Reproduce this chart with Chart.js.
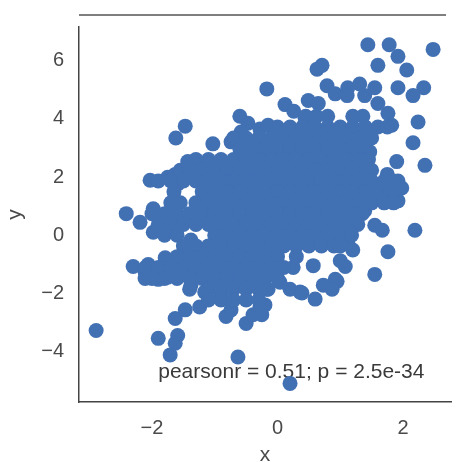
<!DOCTYPE html>
<html>
<head>
<meta charset="utf-8">
<script src="https://cdn.jsdelivr.net/npm/chart.js@4.4.1/dist/chart.umd.min.js"></script>
<style>
  html, body { margin: 0; padding: 0; background: #fff; }
  #wrap { width: 462px; height: 462px; }
</style>
</head>
<body>
<div id="wrap"><canvas id="chart" width="462" height="462"></canvas></div>
<script>
// tick values on each axis
const xTicks = [-2, 0, 2];
const yTicks = [-4, -2, 0, 2, 4, 6];

// scattered points around the edge of the cloud (x, y)
const loosePoints = [
    [-0.17, 5.03], [-1.47, 3.75], [-1.62, 3.34], [-0.60, 4.09], [-0.47, 3.85],
    [-0.28, 3.65], [-0.58, 3.55], [-0.74, 3.21], [-1.03, 3.14], [-0.39, 3.04],
    [-1.43, 2.53], [-2.03, 1.89], [-1.75, 1.99], [-1.63, 2.09], [-2.41, 0.74],
    [-2.19, 0.44], [-1.98, 0.91], [-1.98, 0.10], [-1.70, 0.17], [-1.70, 1.11],
    [-1.38, -0.17], [-1.59, 1.76], [-2.30, -1.08], [-2.06, -1.01], [-1.79, -0.78],
    [-2.11, -1.28], [-1.75, -1.45], [-1.47, -1.18], [-1.38, -1.72], [-1.16, -1.96],
    [-0.90, -2.06], [-1.63, -2.87], [-1.47, -2.57], [-1.24, -2.47], [-0.82, -2.80],
    [-0.74, -2.57], [-0.50, -3.04], [-0.39, -2.74], [-0.28, -2.47], [-2.89, -3.28],
    [-1.90, -3.55], [-1.59, -3.45], [-1.63, -3.72], [-1.71, -4.12], [-0.63, -4.19],
    [0.20, -5.10], [-2.11, -1.49], [-1.90, -1.52],
    [1.44, 6.55], [1.78, 6.55], [1.92, 6.15], [2.48, 6.39], [1.60, 5.84],
    [2.06, 5.68], [0.63, 5.71], [0.71, 5.84], [1.92, 5.07], [2.33, 5.07],
    [2.16, 4.80], [2.24, 3.89], [2.16, 3.18], [0.79, 5.14], [0.92, 4.86],
    [1.12, 5.07], [1.31, 5.20], [1.55, 5.07], [0.12, 4.49], [0.26, 4.26],
    [0.49, 4.63], [0.65, 4.53], [1.11, 4.80], [1.39, 4.80], [1.60, 4.53],
    [1.76, 4.19], [1.82, 3.78], [0.44, 4.02], [0.23, 3.55], [-0.15, 3.78],
    [0.01, 3.21], [1.47, 2.87], [1.90, 2.53], [2.35, 2.40], [1.92, 1.86],
    [1.98, 1.62], [1.92, 1.18], [1.75, 2.09], [1.39, 0.84], [1.55, 0.34],
    [1.67, 0.17], [2.19, 0.17], [1.76, -0.57], [1.55, -1.35], [1.20, -0.51],
    [1.12, -0.27], [1.08, -1.08], [1.00, -0.88], [0.92, -1.52], [0.73, -1.72],
    [0.60, -2.20], [0.36, -1.96], [0.20, -1.86], [0.25, -1.11], [0.57, -1.05],
    [0.04, -1.62], [-0.17, -1.86], [-0.20, -2.40], [-0.25, -2.74], [0.95, -1.59],
    [0.87, -1.86], [0.39, -1.99]
];

// dense middle of the cloud, read row by row: y of the row, then the x values
const coreRowY = [4.09, 3.72, 3.34, 2.97, 2.60, 2.23, 1.86, 1.49, 1.11, 0.74,
                  0.37, 0.00, -0.37, -0.74, -1.11, -1.49, -1.86, -2.23];
const coreRowX = [
    [0.45, 0.62, 0.80, 1.20, 1.36],
    [0.0, 0.2, 0.4, 0.6, 0.8, 1.0, 1.2, 1.4, 1.6, 1.75],
    [-0.7, -0.5, -0.3, -0.1, 0.1, 0.3, 0.5, 0.7, 0.9, 1.1, 1.3, 1.5],
    [-0.6, -0.4, -0.2, 0.0, 0.2, 0.4, 0.6, 0.8, 1.0, 1.2, 1.36],
    [-1.3, -1.1, -0.9, -0.7, -0.5, -0.3, -0.1, 0.1, 0.3, 0.5, 0.7, 0.9, 1.1, 1.3, 1.45],
    [-1.55, -1.4, -1.2, -1.0, -0.8, -0.6, -0.4, -0.2, 0.0, 0.2, 0.4, 0.6, 0.8, 1.0, 1.2, 1.4, 1.5],
    [-1.9, -1.7, -1.5, -1.3, -1.1, -0.9, -0.7, -0.5, -0.3, -0.1, 0.1, 0.3, 0.5, 0.7, 0.9, 1.1, 1.3, 1.5, 1.7, 1.85],
    [-1.65, -1.2, -1.0, -0.8, -0.6, -0.4, -0.2, 0.0, 0.2, 0.4, 0.6, 0.8, 1.0, 1.2, 1.4, 1.6, 1.8],
    [-1.55, -1.3, -1.1, -0.9, -0.7, -0.5, -0.3, -0.1, 0.1, 0.3, 0.5, 0.7, 0.9, 1.1, 1.3, 1.5, 1.7, 1.85],
    [-2.0, -1.8, -1.6, -1.4, -1.2, -1.0, -0.8, -0.6, -0.4, -0.2, 0.0, 0.2, 0.4, 0.6, 0.8, 1.0, 1.2, 1.35],
    [-1.9, -1.7, -1.5, -1.3, -1.1, -0.9, -0.7, -0.5, -0.3, -0.1, 0.1, 0.3, 0.5, 0.7, 0.9, 1.1, 1.28],
    [-1.8, -1.6, -1.0, -0.8, -0.6, -0.4, -0.2, 0.0, 0.2, 0.4, 0.6, 0.8, 1.0, 1.18],
    [-1.5, -1.3, -1.1, -0.9, -0.7, -0.5, -0.3, -0.1, 0.1, 0.3, 0.5, 0.7, 0.9, 1.0],
    [-1.6, -1.4, -1.2, -1.0, -0.8, -0.6, -0.4, -0.2, 0.0, 0.3],
    [-2.1, -1.9, -1.7, -1.5, -1.3, -1.1, -0.9, -0.7, -0.5, -0.3, -0.1, 0.1],
    [-2.0, -1.8, -1.6, -1.4, -1.2, -1.0, -0.8, -0.6, -0.4, -0.2, 0.0],
    [-1.4, -1.1, -0.9, -0.7, -0.5, -0.3, -0.15],
    [-1.1, -0.9, -0.7, -0.5, -0.3]
];

// the stats note and where it sits (data units)
const noteText = 'pearsonr = 0.51; p = 2.5e-34';
const notePos = [-1.9, -4.93];

const points = [];
loosePoints.forEach(p => points.push({ x: p[0], y: p[1] }));
coreRowY.forEach((y, i) => {
    coreRowX[i].forEach(x => points.push({ x: x, y: y }));
});

function tickText(v) {
    return v < 0 ? '\u2212' + Math.abs(v) : String(v);
}

// note text + the top marginal spine
const extras = {
    id: 'extras',
    beforeDatasetsDraw(chart) {
        const ctx = chart.ctx;
        const xs = chart.scales.x, ys = chart.scales.y;
        ctx.save();
        ctx.font = '21px "Liberation Sans", Arial, sans-serif';
        ctx.fillStyle = '#3a3a3a';
        ctx.textBaseline = 'alphabetic';
        ctx.textAlign = 'left';
        ctx.fillText(noteText, xs.getPixelForValue(notePos[0]), ys.getPixelForValue(notePos[1]));
        ctx.restore();
    },
    afterDraw(chart) {
        const ctx = chart.ctx;
        const area = chart.chartArea;
        ctx.save();
        ctx.strokeStyle = '#555';
        ctx.lineWidth = 1.5;
        ctx.beginPath();
        ctx.moveTo(area.left, area.top - 12);
        ctx.lineTo(area.right - 5, area.top - 12);
        ctx.stroke();
        ctx.restore();
    }
};

new Chart(document.getElementById('chart').getContext('2d'), {
    type: 'scatter',
    data: {
        datasets: [{
            data: points,
            backgroundColor: '#4170b3',
            borderWidth: 0,
            pointRadius: 7.5,
            pointHoverRadius: 7.5
        }]
    },
    options: {
        responsive: false,
        animation: false,
        devicePixelRatio: 1,
        layout: { padding: { top: 20, right: 11, left: 0, bottom: 0 } },
        plugins: { legend: { display: false }, tooltip: { enabled: false } },
        scales: {
            x: {
                type: 'linear',
                min: -3.163,
                max: 2.765,
                afterBuildTicks: s => { s.ticks = xTicks.map(v => ({ value: v })); },
                afterFit: s => { s.height = 60; },
                grid: { display: false, drawTicks: false },
                border: { display: true, color: '#444', width: 1.5 },
                ticks: {
                    padding: 14,
                    color: '#4a4a4a',
                    font: { family: '"Liberation Sans", Arial, sans-serif', size: 20 },
                    callback: v => tickText(v)
                },
                title: {
                    display: true,
                    text: 'x',
                    color: '#4a4a4a',
                    font: { family: '"Liberation Sans", Arial, sans-serif', size: 21 },
                    padding: { top: 0, bottom: -6 }
                }
            },
            y: {
                type: 'linear',
                min: -5.74,
                max: 7.16,
                afterBuildTicks: s => { s.ticks = yTicks.map(v => ({ value: v })); },
                afterFit: s => { s.width = 79; },
                grid: { display: false, drawTicks: false },
                border: { display: true, color: '#444', width: 1.5 },
                ticks: {
                    padding: 15,
                    color: '#4a4a4a',
                    font: { family: '"Liberation Sans", Arial, sans-serif', size: 20 },
                    callback: v => tickText(v)
                },
                title: {
                    display: true,
                    text: 'y',
                    color: '#4a4a4a',
                    font: { family: '"Liberation Sans", Arial, sans-serif', size: 21 },
                    padding: { top: 3, bottom: 0 }
                }
            }
        }
    },
    plugins: [extras]
});
</script>
</body>
</html>
